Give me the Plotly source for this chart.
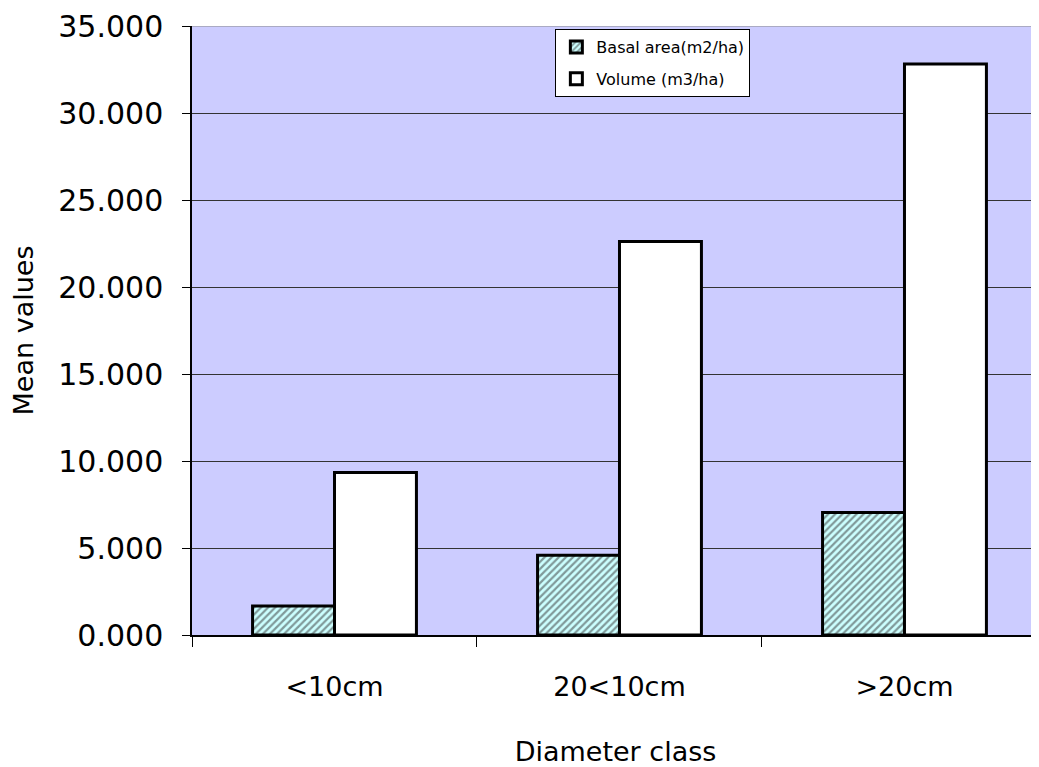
import plotly.graph_objects as go

categories = ["<10cm", "20<10cm", ">20cm"]
basal_area = [1.66, 4.58, 7.04]
volume = [9.34, 22.62, 32.82]
y_ticks = [0, 5, 10, 15, 20, 25, 30, 35]

FONT = "DejaVu Sans, sans-serif"

fig = go.Figure()
fig.add_trace(go.Bar(
    x=categories, y=basal_area, name="Basal area(m2/ha)", legendgroup="a",
    marker=dict(color="#CCFFFF",
                pattern=dict(shape="/", bgcolor="#CCFFFF", fgcolor="#333333",
                             size=5, solidity=0.45, fillmode="overlay"),
                line=dict(color="black", width=3)),
))
fig.add_trace(go.Bar(
    x=categories, y=volume, name="Volume (m3/ha)", legendgroup="b",
    marker=dict(color="white", line=dict(color="black", width=3)),
))

fig.update_layout(
    width=1031, height=759,
    margin=dict(l=184, r=0, t=16, b=132),
    paper_bgcolor="white", plot_bgcolor="#CCCCFF",
    barmode="group", bargap=0.425, bargroupgap=0,
    font=dict(family=FONT, color="black"),
    showlegend=True,
    legend=dict(x=0.429, y=0.995, xanchor="left", yanchor="top",
                bgcolor="white", bordercolor="black", borderwidth=1,
                font=dict(size=16, family=FONT), traceorder="grouped",
                itemwidth=30, tracegroupgap=8),
)
# top gridline at the range maximum (plotly clips gridlines at plot edges)
fig.add_shape(type="line", xref="paper", yref="y", x0=0, x1=1,
              y0=y_ticks[-1], y1=y_ticks[-1],
              line=dict(color="#888888", width=1), layer="below")
fig.update_xaxes(
    type="category", range=[-0.5, 2.472],
    showline=True, linecolor="black", linewidth=1.5,
    ticks="outside", tickson="boundaries", ticklen=10, tickcolor="black",
    tickfont=dict(size=27, family=FONT), ticklabelstandoff=27,
    title=dict(text="Diameter class", font=dict(size=27, family=FONT), standoff=42),
    showgrid=False,
)
fig.update_yaxes(
    range=[0, 35], tickmode="array", tickvals=y_ticks, tickformat=".3f",
    ticklabeloverflow="allow",
    showline=True, linecolor="black", linewidth=1.5,
    ticks="outside", ticklen=8, tickcolor="black",
    tickfont=dict(size=30, family=FONT), ticklabelstandoff=13,
    showgrid=True, gridcolor="#333333", gridwidth=1,
    zeroline=False,
    title=dict(text="Mean values", font=dict(size=27, family=FONT), standoff=20),
)

fig.write_html("out.html")
